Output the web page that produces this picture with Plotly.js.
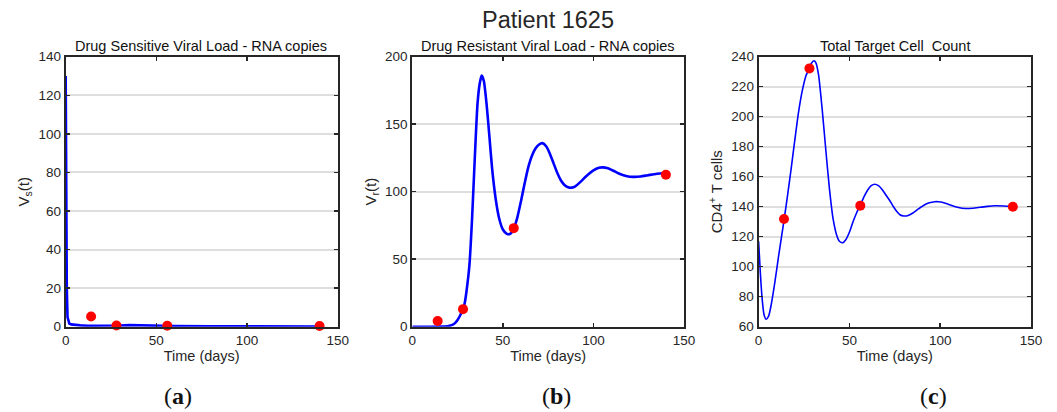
<!DOCTYPE html>
<html>
<head>
<meta charset="utf-8">
<script src="https://cdn.plot.ly/plotly-3.0.1.min.js"></script>
<style>html,body{margin:0;padding:0;background:#fff}#chart{width:1057px;height:412px}</style>
</head>
<body>
<div id="chart"></div>
<script>
// Panel (a): drug sensitive viral load
const tA = [0, 0.3, 0.6, 1, 1.5, 2, 3, 5, 8, 12, 20, 30, 35, 40, 50, 60, 80, 100, 120, 140];
const vsA = [130, 60, 20, 5, 2.2, 1.6, 1.2, 0.9, 0.7, 0.5, 0.4, 0.6, 0.8, 0.7, 0.4, 0.3, 0.2, 0.15, 0.1, 0.1];
const obsTA = [14, 28, 56, 140];
const obsVA = [5.3, 0.6, 0.5, 0.4];

// Panel (b): drug resistant viral load
const tB = [0, 10, 16, 20, 23, 25, 27, 28, 29, 30, 31.5, 33, 34.5, 36, 37.2, 38.3, 39.5, 41, 42.5, 44, 46, 48, 50, 52, 53.6, 55, 56, 58, 60, 62, 64, 66, 68, 70, 71.8, 74, 76, 78, 80, 82, 84, 86, 88, 90, 93, 96, 100, 103, 105, 108, 111, 114, 118, 122, 126, 130, 135, 140];
const vrB = [0, 0, 0.1, 0.5, 2, 5, 10, 13, 18, 27, 45, 80, 125, 165, 180, 186, 182, 165, 142, 118, 95, 80, 72, 69, 68.5, 70, 72.5, 81, 93, 106, 118, 126.5, 132, 135, 136, 133.5, 128, 121, 114, 108.5, 105, 103.3, 103, 104, 107.5, 111.5, 115.8, 117.7, 118, 117.3, 115.5, 113.5, 111.7, 111, 111.3, 112.2, 113.3, 113.8];
const obsTB = [14, 28, 56, 140];
const obsVB = [4.2, 13, 73, 112.6];

// Panel (c): total target cell count
const tC = [0, 1, 2, 3, 4.2, 5.5, 7, 9, 11, 12.5, 14, 16, 18, 20, 22, 24, 26, 27.8, 29, 30.5, 31.5, 33, 35, 37, 39, 41, 43, 44.5, 46.3, 48, 50, 52, 54, 56, 58, 60, 62, 64, 66, 68, 70, 72, 74, 76, 78, 80, 82, 85, 88, 91, 94, 97, 99, 102, 106, 110, 114, 118, 122, 126, 130, 135, 140];
const cellsC = [117, 95, 78, 68, 65, 67, 75, 90, 107, 119, 131, 148, 166, 185, 203, 217, 227, 232, 235.5, 237.3, 236, 228, 205, 178, 152, 132, 121, 117, 116, 118, 123, 130, 136, 141, 146.5, 151, 154, 155, 154, 151.5, 148, 144.5, 140.5, 137, 134.5, 133.8, 134, 135.8, 138.5, 141, 142.6, 143.3, 143.3, 142.6, 141, 139.5, 138.8, 139, 139.6, 140.2, 140.6, 140.5, 140.2];
const obsTC = [14, 28, 56, 140];
const obsVC = [131.8, 232.2, 140.7, 140];

const mainTitle = 'Patient 1625';
const subTitles = ['Drug Sensitive Viral Load - RNA copies', 'Drug Resistant Viral Load - RNA copies', 'Total Target Cell  Count'];
const yTitles = ['V<sub>s</sub>(t)', 'V<sub>r</sub>(t)', 'CD4<sup>+</sup> T cells'];
const panelLabels = ['(<b>a</b>)', '(<b>b</b>)', '(<b>c</b>)'];

const BLUE = '#0000ff', RED = '#ff0000', INK = '#262626';
const SANS = 'Liberation Sans, Arial, sans-serif';
const W = 1057, H = 412;
const xdom = [[65.7 / W, 337.7 / W], [412.3 / W, 684 / W], [758.6 / W, 1031 / W]];
const ydom = [(H - 326.7) / H, (H - 56.7) / H];

function lineTrace(x, y, ax, width, shape) {
  return { x, y, type: 'scatter', mode: 'lines', xaxis: 'x' + ax, yaxis: 'y' + ax,
    line: { color: BLUE, width, shape: shape, smoothing: 0.6 }, hoverinfo: 'skip', showlegend: false };
}
function dotTrace(x, y, ax) {
  return { x, y, type: 'scatter', mode: 'markers', xaxis: 'x' + ax, yaxis: 'y' + ax,
    marker: { color: RED, size: 10 }, showlegend: false, cliponaxis: false };
}

const data = [
  lineTrace(tA, vsA, '', 2.6, 'linear'), dotTrace(obsTA, obsVA, ''),
  lineTrace(tB, vrB, '2', 2.6, 'spline'), dotTrace(obsTB, obsVB, '2'),
  lineTrace(tC, cellsC, '3', 1.6, 'spline'), dotTrace(obsTC, obsVC, '3')
];

function xAxis(i) {
  return { domain: xdom[i], anchor: i === 0 ? 'y' : 'y' + (i + 1), range: [0, 150], tickvals: [0, 50, 100, 150],
    showgrid: false, zeroline: false, showline: true, mirror: 'ticks', linecolor: INK, linewidth: 2,
    ticks: 'inside', ticklen: 4, tickwidth: 1.5, tickcolor: INK,
    tickfont: { family: SANS, size: 13.5, color: INK },
    title: { text: 'Time (days)', font: { family: SANS, size: 14.5, color: INK }, standoff: 4 } };
}
function yAxis(i, range, dtick) {
  return { domain: ydom, anchor: i === 0 ? 'x' : 'x' + (i + 1), range, dtick,
    showgrid: true, gridcolor: '#dedede', gridwidth: 2, zeroline: false, showline: true, mirror: 'ticks',
    linecolor: INK, linewidth: 2, ticks: 'inside', ticklen: 4, tickwidth: 1.5, tickcolor: INK,
    tickfont: { family: SANS, size: 13.5, color: INK },
    title: { text: yTitles[i], font: { family: SANS, size: 15, color: INK }, standoff: 5 } };
}

const annotations = [
  { text: mainTitle, x: 547.5 / W, y: (H - 20) / H, xref: 'paper', yref: 'paper', showarrow: false,
    font: { family: SANS, size: 23.5, color: INK }, xanchor: 'center', yanchor: 'middle' }
];
const subCenters = [201, 548, 894.7];
const labelCenters = [178, 556, 933];
for (let i = 0; i < 3; i++) {
  annotations.push({ text: subTitles[i], x: subCenters[i] / W, y: (H - 46) / H, xref: 'paper', yref: 'paper', showarrow: false,
    font: { family: SANS, size: 14.5, color: '#111' }, xanchor: 'center', yanchor: 'middle' });
  annotations.push({ text: panelLabels[i], x: labelCenters[i] / W, y: (H - 396) / H, xref: 'paper', yref: 'paper', showarrow: false,
    font: { family: 'Liberation Serif, DejaVu Serif, serif', size: 24, color: '#111' }, xanchor: 'center', yanchor: 'middle' });
}

const layout = {
  width: W, height: H, margin: { l: 0, r: 0, t: 0, b: 0 }, paper_bgcolor: '#fff', plot_bgcolor: '#fff',
  showlegend: false,
  xaxis: xAxis(0), yaxis: yAxis(0, [0, 140], 20),
  xaxis2: xAxis(1), yaxis2: yAxis(1, [0, 200], 50),
  xaxis3: xAxis(2), yaxis3: yAxis(2, [60, 240], 20),
  annotations
};

Plotly.newPlot('chart', data, layout, { staticPlot: true, displayModeBar: false });
</script>
</body>
</html>
